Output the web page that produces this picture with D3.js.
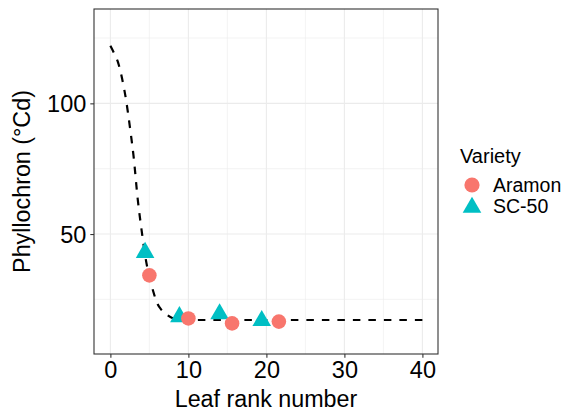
<!DOCTYPE html>
<html>
<head>
<meta charset="utf-8">
<script src="https://cdn.jsdelivr.net/npm/d3@7"></script>
<style>
  html, body { margin: 0; padding: 0; background: #fff; }
  svg { display: block; font-family: "Liberation Sans", Arial, sans-serif; }
</style>
</head>
<body>
<svg id="chart" width="566" height="412"></svg>
<script>
// Observed phyllochron by leaf rank, per variety
const aramonRank = [5.0, 10.0, 15.6, 21.6];
const aramonPhyllo = [34.2, 17.7, 15.8, 16.5];
const sc50Rank = [4.45, 8.85, 14.0, 19.4];
const sc50Phyllo = [43.5, 18.9, 20.0, 17.4];

// Fitted phyllochron curve
const fitRank = [0, 0.5, 1, 1.5, 2, 2.5, 3, 3.5, 4, 4.5, 5, 5.5, 6, 6.5, 7, 8, 9, 10, 20, 30, 40];
const fitPhyllo = [122, 119, 115.5, 109.5, 101.5, 91, 79, 63.5, 51.5, 41, 33.5, 28, 23.5, 21.2, 19.7, 17.8, 17.3, 17.1, 17.1, 17.1, 17.1];

const xMajor = [0, 10, 20, 30, 40];
const xMinor = [5, 15, 25, 35];
const yMajor = [50, 100];
const yMinor = [25, 75, 125];

const varieties = ["Aramon", "SC-50"];
const varietyColors = ["#F8766D", "#00BFC4"];

const svg = d3.select("#chart");
const panel = { left: 94, right: 438, top: 9, bottom: 354 };

const x = d3.scaleLinear().domain([-2.1, 42.0]).range([panel.left, panel.right]);
const y = d3.scaleLinear().domain([4.1, 136.1]).range([panel.bottom, panel.top]);

// grid
const grid = svg.append("g");
grid.selectAll(".gxm").data(xMinor).enter().append("line")
  .attr("x1", d => x(d)).attr("x2", d => x(d))
  .attr("y1", panel.top).attr("y2", panel.bottom)
  .attr("stroke", "#EBEBEB").attr("stroke-width", 0.6);
grid.selectAll(".gym").data(yMinor).enter().append("line")
  .attr("y1", d => y(d)).attr("y2", d => y(d))
  .attr("x1", panel.left).attr("x2", panel.right)
  .attr("stroke", "#EBEBEB").attr("stroke-width", 0.6);
grid.selectAll(".gx").data(xMajor).enter().append("line")
  .attr("x1", d => x(d)).attr("x2", d => x(d))
  .attr("y1", panel.top).attr("y2", panel.bottom)
  .attr("stroke", "#EBEBEB").attr("stroke-width", 1.1);
grid.selectAll(".gy").data(yMajor).enter().append("line")
  .attr("y1", d => y(d)).attr("y2", d => y(d))
  .attr("x1", panel.left).attr("x2", panel.right)
  .attr("stroke", "#EBEBEB").attr("stroke-width", 1.1);

// fitted curve
const fit = fitRank.map((r, i) => [r, fitPhyllo[i]]);
svg.append("path")
  .datum(fit)
  .attr("d", d3.line().x(d => x(d[0])).y(d => y(d[1])).curve(d3.curveMonotoneX))
  .attr("fill", "none")
  .attr("stroke", "#000")
  .attr("stroke-width", 2.2)
  .attr("stroke-dasharray", "7.5,8");

// points
const sym = d3.symbol();
const tri = d3.symbol().type(d3.symbolTriangle).size(150);
svg.selectAll(".sc50").data(sc50Rank).enter().append("path")
  .attr("d", tri)
  .attr("transform", (d, i) => `translate(${x(d)},${y(sc50Phyllo[i]) + 1.5})`)
  .attr("fill", varietyColors[1]);
svg.selectAll(".aramon").data(aramonRank).enter().append("circle")
  .attr("cx", d => x(d))
  .attr("cy", (d, i) => y(aramonPhyllo[i]))
  .attr("r", 7.3)
  .attr("fill", varietyColors[0]);

// panel border
svg.append("rect")
  .attr("x", panel.left).attr("y", panel.top)
  .attr("width", panel.right - panel.left).attr("height", panel.bottom - panel.top)
  .attr("fill", "none").attr("stroke", "#333333").attr("stroke-width", 1.1);

// axes
const xAxis = svg.append("g")
  .attr("transform", `translate(0,${panel.bottom})`)
  .call(d3.axisBottom(x).tickValues(xMajor).tickSize(3.7).tickPadding(4).tickFormat(d3.format("d")));
const yAxis = svg.append("g")
  .attr("transform", `translate(${panel.left},0)`)
  .call(d3.axisLeft(y).tickValues(yMajor).tickSize(3.7).tickPadding(4).tickFormat(d3.format("d")));
[xAxis, yAxis].forEach(a => {
  a.select(".domain").remove();
  a.selectAll(".tick line").attr("stroke", "#333333").attr("stroke-width", 1.1);
  a.selectAll("text").attr("fill", "#000").style("font-size", "23.5px")
    .style("font-family", "'Liberation Sans', Arial, sans-serif");
});
yAxis.selectAll("text").attr("dy", "0.36em");

// axis titles
svg.append("text")
  .attr("x", (panel.left + panel.right) / 2).attr("y", 407)
  .attr("text-anchor", "middle")
  .style("font-size", "23.3px")
  .text("Leaf rank number");
svg.append("text")
  .attr("transform", `translate(30,${(panel.top + panel.bottom) / 2}) rotate(-90)`)
  .attr("text-anchor", "middle")
  .style("font-size", "23.3px")
  .text("Phyllochron (°Cd)");

// legend
const legend = svg.append("g");
legend.append("text")
  .attr("x", 460).attr("y", 163)
  .style("font-size", "20px")
  .text("Variety");
const keyY = [185, 206];
legend.append("circle")
  .attr("cx", 472).attr("cy", keyY[0]).attr("r", 7.6)
  .attr("fill", varietyColors[0]);
legend.append("path")
  .attr("d", tri)
  .attr("transform", `translate(472,${keyY[1] + 1.5})`)
  .attr("fill", varietyColors[1]);
legend.selectAll(".lab").data(varieties).enter().append("text")
  .attr("x", 493).attr("y", (d, i) => keyY[i] + 7)
  .style("font-size", "19.5px")
  .text(d => d);
</script>
</body>
</html>
